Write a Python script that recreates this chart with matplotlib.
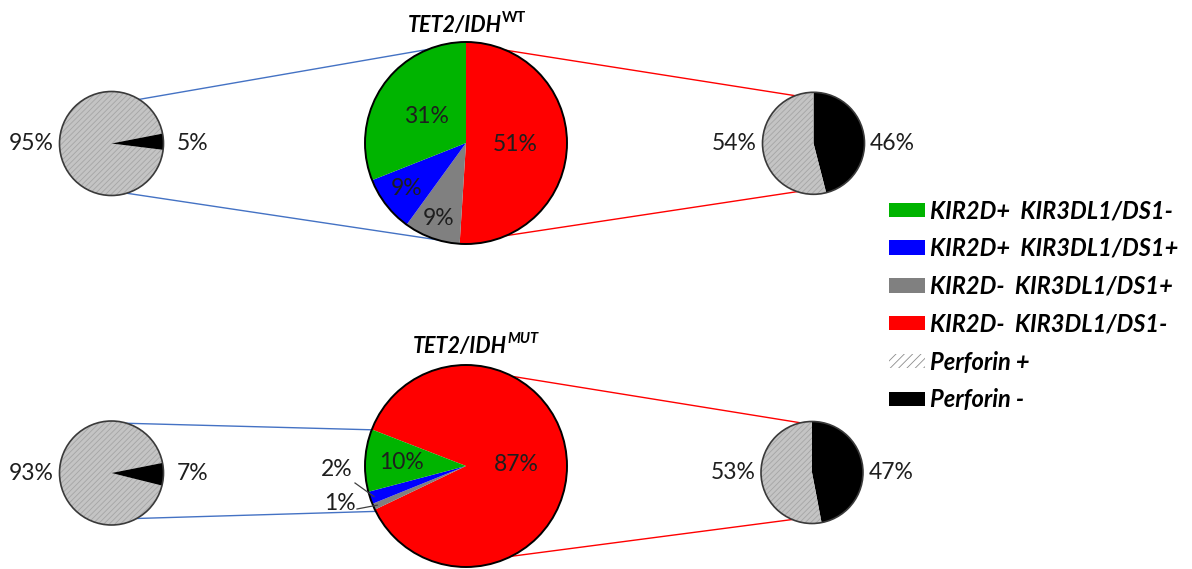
import matplotlib
matplotlib.use('Agg')
import matplotlib.pyplot as plt
from matplotlib.patches import Patch, Circle
import numpy as np

plt.rcParams['font.family'] = ['Lato', 'DejaVu Sans']
plt.rcParams['hatch.linewidth'] = 0.6

# ---------------- data ----------------
categories = ['KIR2D+  KIR3DL1/DS1-', 'KIR2D+  KIR3DL1/DS1+',
              'KIR2D-  KIR3DL1/DS1+', 'KIR2D-  KIR3DL1/DS1-']
kir_colors = ['#00B400', '#0000FF', '#808080', '#FF0000']
wt_values = [31, 9, 9, 51]
mut_values = [10, 2, 1, 87]
perforin_labels = ['Perforin +', 'Perforin -']
wt_kir2d_pos_perf = [95, 5]      # left pie
wt_red_perf = [54, 46]           # right pie
mut_kir2d_pos_perf = [93, 7]
mut_red_perf = [53, 47]
title_main = ['TET2/IDH', 'TET2/IDH']
title_sup = ['WT', 'MUT']

# ---------------- layout ----------------
W, H = 1192, 569
fig = plt.figure(figsize=(W / 100, H / 100), dpi=100)
ax = fig.add_axes([0, 0, 1, 1])

def Y(y):
    return H - y

def pt(c, r, a):
    return (c[0] + r * np.cos(np.radians(a)), c[1] + r * np.sin(np.radians(a)))

PERF_GRAY = '#c4c4c4'
HATCH_COL = '#a5a5a5'
FS = 16.5
TXT = '#1e1e1e'

rows = [
    dict(vals=wt_values, left=wt_kir2d_pos_perf, right=wt_red_perf,
         big_start=90, left_start=-7,
         big_c=(466, 143), left_c=(111.5, 143.5), right_c=(813.5, 143.3),
         lines_l=[(58, 112), (-73, -90.5)], lines_r=[(66.7, 111), (-66.5, -108.6)],
         label_d=[0.47, 0.74, 0.79, 0.49], external=[]),
    dict(vals=mut_values, left=mut_kir2d_pos_perf, right=mut_red_perf,
         big_start=158.8, left_start=-14,
         big_c=(466, 466), left_c=(111.5, 473), right_c=(812, 472.5),
         lines_l=[(73, 159), (-61, 206.7)], lines_r=[(62.5, 103), (-63.4, -112.8)],
         label_d=[0.64, None, None, 0.5],
         external=[(1, (337, 470), (355, 483)), (2, (340, 504), (357, 509))]),
]

RB, RL, RR = 101, 52, 51

for row in rows:
    bc = (row['big_c'][0], Y(row['big_c'][1]))
    lc = (row['left_c'][0], Y(row['left_c'][1]))
    rc = (row['right_c'][0], Y(row['right_c'][1]))

    # connecting lines
    for a_small, a_big in row['lines_l']:
        p1 = pt(lc, RL, a_small); p2 = pt(bc, RB, a_big)
        ax.plot([p1[0], p2[0]], [p1[1], p2[1]], color='#4472C4', lw=1.0, zorder=1)
    for a_big, a_small in row['lines_r']:
        p1 = pt(bc, RB, a_big); p2 = pt(rc, RR, a_small)
        ax.plot([p1[0], p2[0]], [p1[1], p2[1]], color='#FF0000', lw=1.0, zorder=1)

    # big pie: clockwise order red, gray, blue, green
    vals = row['vals'][::-1]
    cols = kir_colors[::-1]
    wedges, _ = ax.pie(vals, colors=cols, startangle=row['big_start'], counterclock=False,
                       center=bc, radius=RB, wedgeprops=dict(linewidth=0))
    for w in wedges:
        w.set_zorder(2)
    ax.add_patch(Circle(bc, RB, fill=False, edgecolor='black', lw=1.4, zorder=3))
    dists = row['label_d'][::-1]
    for w, v, d in zip(wedges, vals, dists):
        if d is None:
            continue
        mid = np.radians((w.theta1 + w.theta2) / 2)
        ax.text(bc[0] + d * RB * np.cos(mid), bc[1] + d * RB * np.sin(mid), f'{v}%',
                ha='center', va='center', fontsize=FS, color=TXT, zorder=4)
    for idx, tpos, lstart in row['external']:
        w = wedges[3 - idx]
        mid = np.radians((w.theta1 + w.theta2) / 2)
        edge = (bc[0] + 0.96 * RB * np.cos(mid), bc[1] + 0.96 * RB * np.sin(mid))
        ax.text(tpos[0], Y(tpos[1]), f'{row["vals"][idx]}%', ha='center', va='center',
                fontsize=FS, color=TXT, zorder=4)
        ax.plot([lstart[0], edge[0]], [Y(lstart[1]), edge[1]], color='#404040', lw=0.9,
                zorder=4)

    # left small pie: gray (perforin+) then black
    lw_, _ = ax.pie(row['left'], colors=[PERF_GRAY, 'black'], startangle=row['left_start'],
                    counterclock=False, center=lc, radius=RL, wedgeprops=dict(linewidth=0))
    # right small pie: black first from 12 o'clock then gray
    rvals = row['right'][::-1]
    rw_, _ = ax.pie(rvals, colors=['black', PERF_GRAY], startangle=90,
                    counterclock=False, center=rc, radius=RR, wedgeprops=dict(linewidth=0))
    for w in [lw_[0], rw_[1]]:
        w.set_hatch('//////')
        w.set_edgecolor(HATCH_COL)
        w.set_linewidth(0)
    for w in list(lw_) + list(rw_):
        w.set_zorder(2)
    ax.add_patch(Circle(lc, RL, fill=False, edgecolor='#3a3a3a', lw=1.2, zorder=3))
    ax.add_patch(Circle(rc, RR, fill=False, edgecolor='#3a3a3a', lw=1.2, zorder=3))

    for c, r, ws, vs in [(lc, RL, lw_, row['left']), (rc, RR, rw_, rvals)]:
        for w, v in zip(ws, vs):
            mid = np.radians((w.theta1 + w.theta2) / 2)
            side = -1 if np.cos(mid) < 0 else 1
            ax.text(c[0] + side * 1.55 * r, c[1], f'{v}%', ha='center', va='center',
                    fontsize=FS, color=TXT)

# titles
title_pos = [((502, 32), (502, 22)), ((507, 353), (507, 343))]
for (m, s), ((mx, my), (sx, sy)) in zip(zip(title_main, title_sup), title_pos):
    ax.text(mx, Y(my), m, ha='right', va='baseline', fontsize=15.5,
            fontweight='bold', fontstyle='italic', color='black')
    ax.text(sx, Y(sy), s, ha='left', va='baseline', fontsize=10.5,
            fontweight='bold', fontstyle='italic' if s == 'MUT' else 'normal', color='black')

# legend
handles = [Patch(facecolor=c, edgecolor='none') for c in kir_colors]
handles.append(Patch(facecolor='white', edgecolor='#8c8c8c', hatch='////', lw=0))
handles.append(Patch(facecolor='black', edgecolor='none'))
labels = categories + perforin_labels
leg = ax.legend(handles, labels, loc='upper left', bbox_to_anchor=(889, Y(199)),
                bbox_transform=ax.transData, frameon=False,
                prop=dict(size=17, weight='bold', style='italic'),
                handlelength=1.52, handleheight=0.55, handletextpad=0.2,
                labelspacing=0.63, borderaxespad=0, borderpad=0)

ax.set_xlim(0, W)
ax.set_ylim(0, H)
ax.set_aspect('equal')
ax.axis('off')
fig.savefig('out.png', dpi=100)
